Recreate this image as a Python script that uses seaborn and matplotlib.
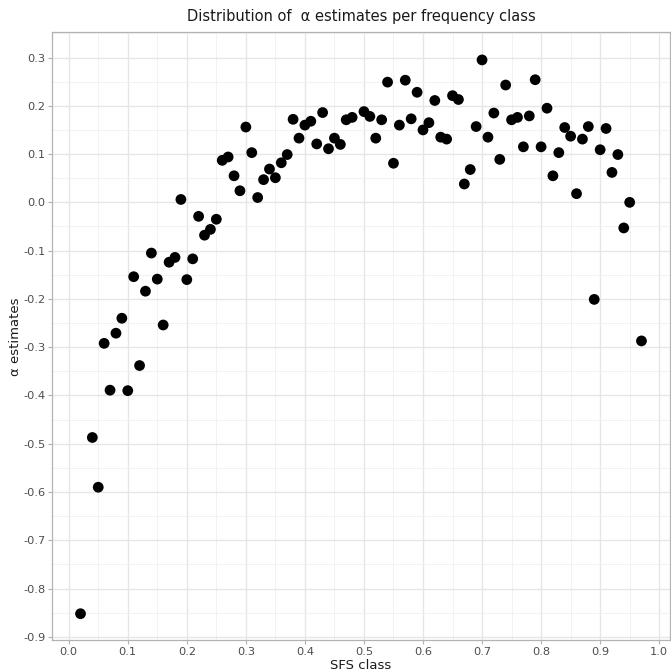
import numpy as np
import pandas as pd
import matplotlib
matplotlib.use("Agg")
import matplotlib.pyplot as plt
from matplotlib.ticker import MultipleLocator
import seaborn as sns

# SFS classes and per-class alpha estimates
sfs_class = [0.02, 0.04, 0.05, 0.06, 0.07, 0.08, 0.09, 0.10, 0.11, 0.12,
             0.13, 0.14, 0.15, 0.16, 0.17, 0.18, 0.19, 0.20, 0.21, 0.22,
             0.23, 0.24, 0.25, 0.26, 0.27, 0.28, 0.29, 0.30, 0.31, 0.32,
             0.33, 0.34, 0.35, 0.36, 0.37, 0.38, 0.39, 0.40, 0.41, 0.42,
             0.43, 0.44, 0.45, 0.46, 0.47, 0.48, 0.50, 0.51, 0.52, 0.53,
             0.54, 0.55, 0.56, 0.57, 0.58, 0.59, 0.60, 0.61, 0.62, 0.63,
             0.64, 0.65, 0.66, 0.67, 0.68, 0.69, 0.70, 0.71, 0.72, 0.73,
             0.74, 0.75, 0.76, 0.77, 0.78, 0.79, 0.80, 0.81, 0.82, 0.83,
             0.84, 0.85, 0.86, 0.87, 0.88, 0.89, 0.90, 0.91, 0.92, 0.93,
             0.94, 0.95, 0.97]
alpha_est = [-0.852, -0.487, -0.590, -0.292, -0.389, -0.271, -0.240, -0.390, -0.154, -0.338,
             -0.184, -0.105, -0.159, -0.254, -0.124, -0.114, 0.006, -0.160, -0.117, -0.029,
             -0.068, -0.056, -0.035, 0.087, 0.094, 0.055, 0.024, 0.156, 0.103, 0.010,
             0.047, 0.069, 0.051, 0.082, 0.099, 0.172, 0.133, 0.160, 0.168, 0.121,
             0.186, 0.111, 0.133, 0.120, 0.171, 0.176, 0.188, 0.178, 0.133, 0.171,
             0.249, 0.081, 0.160, 0.253, 0.173, 0.228, 0.150, 0.165, 0.211, 0.135,
             0.131, 0.221, 0.213, 0.038, 0.068, 0.157, 0.295, 0.135, 0.185, 0.089,
             0.243, 0.171, 0.176, 0.115, 0.179, 0.254, 0.115, 0.195, 0.055, 0.103,
             0.155, 0.137, 0.018, 0.131, 0.157, -0.201, 0.109, 0.153, 0.062, 0.099,
             -0.053, 0.000, -0.287]

df = pd.DataFrame({"SFS class": sfs_class, "alpha": alpha_est})

sns.set_theme(style="white")
plt.rcParams["font.family"] = ["DejaVu Sans"]

fig = plt.figure(figsize=(6.71, 6.72), dpi=100)
ax = fig.add_axes([0.0782, 0.047, 0.9196, 0.905])

sns.scatterplot(data=df, x="SFS class", y="alpha", ax=ax,
                color="black", s=60, edgecolor="none", linewidth=0, zorder=3)

ax.set_xlim(-0.0275, 1.0175)
ax.set_ylim(-0.9073, 0.3523)
ax.xaxis.set_major_locator(MultipleLocator(0.1))
ax.xaxis.set_minor_locator(MultipleLocator(0.05))
ax.yaxis.set_major_locator(MultipleLocator(0.1))
ax.yaxis.set_minor_locator(MultipleLocator(0.05))
ax.xaxis.set_major_formatter(plt.FuncFormatter(lambda v, p: f"{v:.1f}"))
ax.yaxis.set_major_formatter(plt.FuncFormatter(lambda v, p: f"{v:.1f}".replace("-0.0", "0.0")))

ax.grid(which="major", color="#e6e6e6", linewidth=1.0, zorder=0)
ax.grid(which="minor", color="#f0f0f0", linewidth=0.6, zorder=0)
ax.set_axisbelow(True)
for sp in ax.spines.values():
    sp.set_color("#b3b3b3")
    sp.set_linewidth(0.9)

ax.tick_params(which="major", direction="out", length=3, width=0.8,
               color="#b3b3b3", labelsize=8.2, labelcolor="#4d4d4d", pad=2,
               bottom=True, left=True)
ax.tick_params(which="minor", length=0)

ax.set_xlabel("SFS class", fontsize=9.5, color="#1a1a1a", labelpad=1)
ax.set_ylabel("α estimates", fontsize=9.5, color="#1a1a1a", labelpad=1)
ax.set_title("Distribution of  α estimates per frequency class",
             fontsize=10.5, color="#1a1a1a", pad=8)

fig.savefig("out.png", dpi=100)
